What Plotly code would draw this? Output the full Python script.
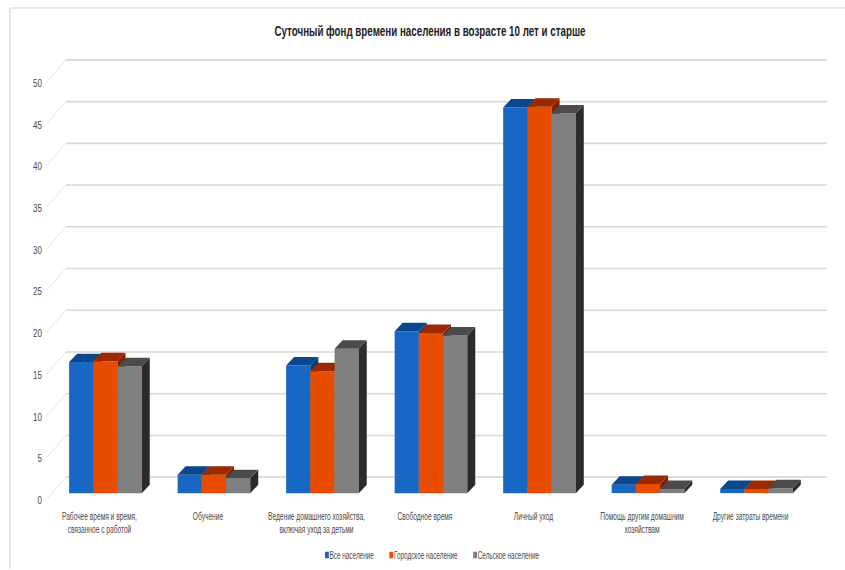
import plotly.graph_objects as go

categories = ["Рабочее время и время,<br>связанное с работой", "Обучение",
              "Ведение домашнего хозяйства,<br>включая уход за детьми", "Свободное время",
              "Личный уход", "Помощь другим домашним<br>хозяйствам", "Другие затраты времени"]
all_pop = [15.7, 2.2, 15.3, 19.4, 46.2, 1.0, 0.5]
urban = [15.8, 2.2, 14.6, 19.2, 46.3, 1.1, 0.5]
rural = [15.2, 1.8, 17.3, 18.9, 45.5, 0.5, 0.6]
y_ticks = [0, 5, 10, 15, 20, 25, 30, 35, 40, 45, 50]
names = ["Все население", "Городское население", "Сельское население"]
series = [all_pop, urban, rural]
front = ["#1668C4", "#E84C00", "#7F7F7F"]
top_c = ["#0A478C", "#9C2A00", "#4B4B4B"]
side_c = ["#0A3A70", "#7E2200", "#2B2B2B"]

W, H = 845, 570
PX_X, X0 = 108.9, 102.8
PX_Y, Y0 = 8.36, 494.0
L, R, T, B = 40, 830, 40, 506
xr = [(L - X0) / PX_X, (R - X0) / PX_X]
yr = [(Y0 - B) / PX_Y, (Y0 - T) / PX_Y]
bw = 24.3 / PX_X
dx = 8.0 / PX_X
dy = 8.5 / PX_Y
idx = list(range(len(categories)))

fig = go.Figure()
for k, (name, vals) in enumerate(zip(names, series)):
    s = "" if k == 0 else str(k + 1)
    off = (k - 1.5) * bw
    fig.add_trace(go.Bar(x=idx, y=vals, width=bw, offset=off, name=name,
                         marker=dict(color=front[k], line_width=0),
                         xaxis="x" + s, yaxis="y" + s, hoverinfo="y"))
    tx, ty, sx, sy = [], [], [], []
    for i, v in zip(idx, vals):
        a = i + off
        b = a + bw
        tx += [a, b, b + dx, a + dx, a, None]
        ty += [v, v, v + dy, v + dy, v, None]
        sx += [b, b + dx, b + dx, b, b, None]
        sy += [0, dy, v + dy, v, 0, None]
    for px, py, col in ((sx, sy, side_c[k]), (tx, ty, top_c[k])):
        fig.add_trace(go.Scatter(x=px, y=py, mode="lines", fill="toself", fillcolor=col,
                                 line=dict(width=0, color=col), showlegend=False, hoverinfo="skip",
                                 xaxis="x" + s, yaxis="y" + s))

back = 16.0 / PX_Y
diag = -6.0 / PX_Y
lab = -7.5 / PX_Y
xb = (63 - X0) / PX_X
xf = (44 - X0) / PX_X
xe = (827 - X0) / PX_X
shapes = []
for t in y_ticks:
    shapes.append(dict(type="line", layer="below", xref="x", yref="y", x0=xb, x1=xe, y0=t + back, y1=t + back,
                       line=dict(color="#D9D9D9", width=1.6)))
    shapes.append(dict(type="line", layer="below", xref="x", yref="y", x0=xf, x1=xb, y0=t + diag, y1=t + back,
                       line=dict(color="#E6E6E6", width=1)))
shapes.append(dict(type="line", layer="below", xref="paper", yref="paper",
                   x0=7 / W, x1=1, y0=1 - 8 / H, y1=1 - 8 / H, line=dict(color="#D4D4D4", width=1)))
shapes.append(dict(type="line", layer="below", xref="paper", yref="paper",
                   x0=7 / W, x1=7 / W, y0=0, y1=1 - 8 / H, line=dict(color="#D4D4D4", width=1)))

base = "Liberation Sans, Arial, sans-serif"
text_col = "#4A4A4A"
fig.update_layout(
    width=W, height=H, margin=dict(l=0, r=0, t=0, b=0),
    paper_bgcolor="white", plot_bgcolor="rgba(0,0,0,0)",
    barmode="overlay", shapes=shapes,
    title=dict(text="<b>Суточный фонд времени населения в возрасте 10 лет и старше</b>",
               x=430 / W, xanchor="center", y=1 - 31 / H, yanchor="middle",
               font=dict(family=base, size=15, color="#222222")),
    legend=dict(orientation="h", x=432 / W, xanchor="center", y=1 - 536 / H, yanchor="middle",
                font=dict(family=base, size=11, color=text_col),
                itemwidth=30, bgcolor="rgba(0,0,0,0)", traceorder="normal"),
    xaxis=dict(domain=[L / W, R / W], range=xr, showgrid=False, zeroline=False, showline=False,
               tickmode="array", tickvals=[i - 6 / PX_X for i in idx], ticktext=categories, ticks="",
               ticklabelstandoff=3,
               tickangle=0, tickfont=dict(family=base, size=10.5, color=text_col)),
    yaxis=dict(domain=[1 - B / H, 1 - T / H], range=yr, showgrid=False, zeroline=False, showline=False,
               tickmode="array", tickvals=[t + lab for t in y_ticks], ticktext=[str(t) for t in y_ticks],
               ticks="", tickfont=dict(family=base, size=10, color=text_col)),
)
for s in ("2", "3"):
    fig.update_layout({
        "xaxis" + s: dict(domain=[L / W, R / W], range=xr, overlaying="x", visible=False),
        "yaxis" + s: dict(domain=[1 - B / H, 1 - T / H], range=yr, overlaying="y", visible=False),
    })

post = """
document.body.style.margin='0';document.documentElement.style.overflow='hidden';
function squeeze(sel,s){document.querySelectorAll(sel).forEach(function(t){
  var x=t.getAttribute('x')||'0';var old=t.getAttribute('transform')||'';
  t.setAttribute('transform',old+' translate('+x+',0) scale('+s+',1) translate('+(-x)+',0)');});}
squeeze('.xtick text',0.63);squeeze('.ytick text',0.8);squeeze('.gtitle',0.652);
var lg=document.querySelector('.legend');
if(lg){var w=lg.getBBox().width,s=0.58;
  lg.setAttribute('transform',lg.getAttribute('transform')+' translate('+(w/2)+',20) scale('+s+',1) translate('+(-w/2)+',0)');
  var shift=[6,0,-6];
  lg.querySelectorAll('.traces').forEach(function(g,i){
    g.setAttribute('transform',g.getAttribute('transform')+' translate('+(shift[i]/s)+',0)');
    var t=g.querySelector('.legendtext');
    t.setAttribute('x',parseFloat(t.getAttribute('x'))-15.5);
    g.querySelectorAll('.legendpoints path').forEach(function(p){
      p.setAttribute('transform',(p.getAttribute('transform')||'')+' scale(0.55,0.55)');});
  });}
"""
fig.write_html("out.html", config={"displayModeBar": False}, post_script=post)
